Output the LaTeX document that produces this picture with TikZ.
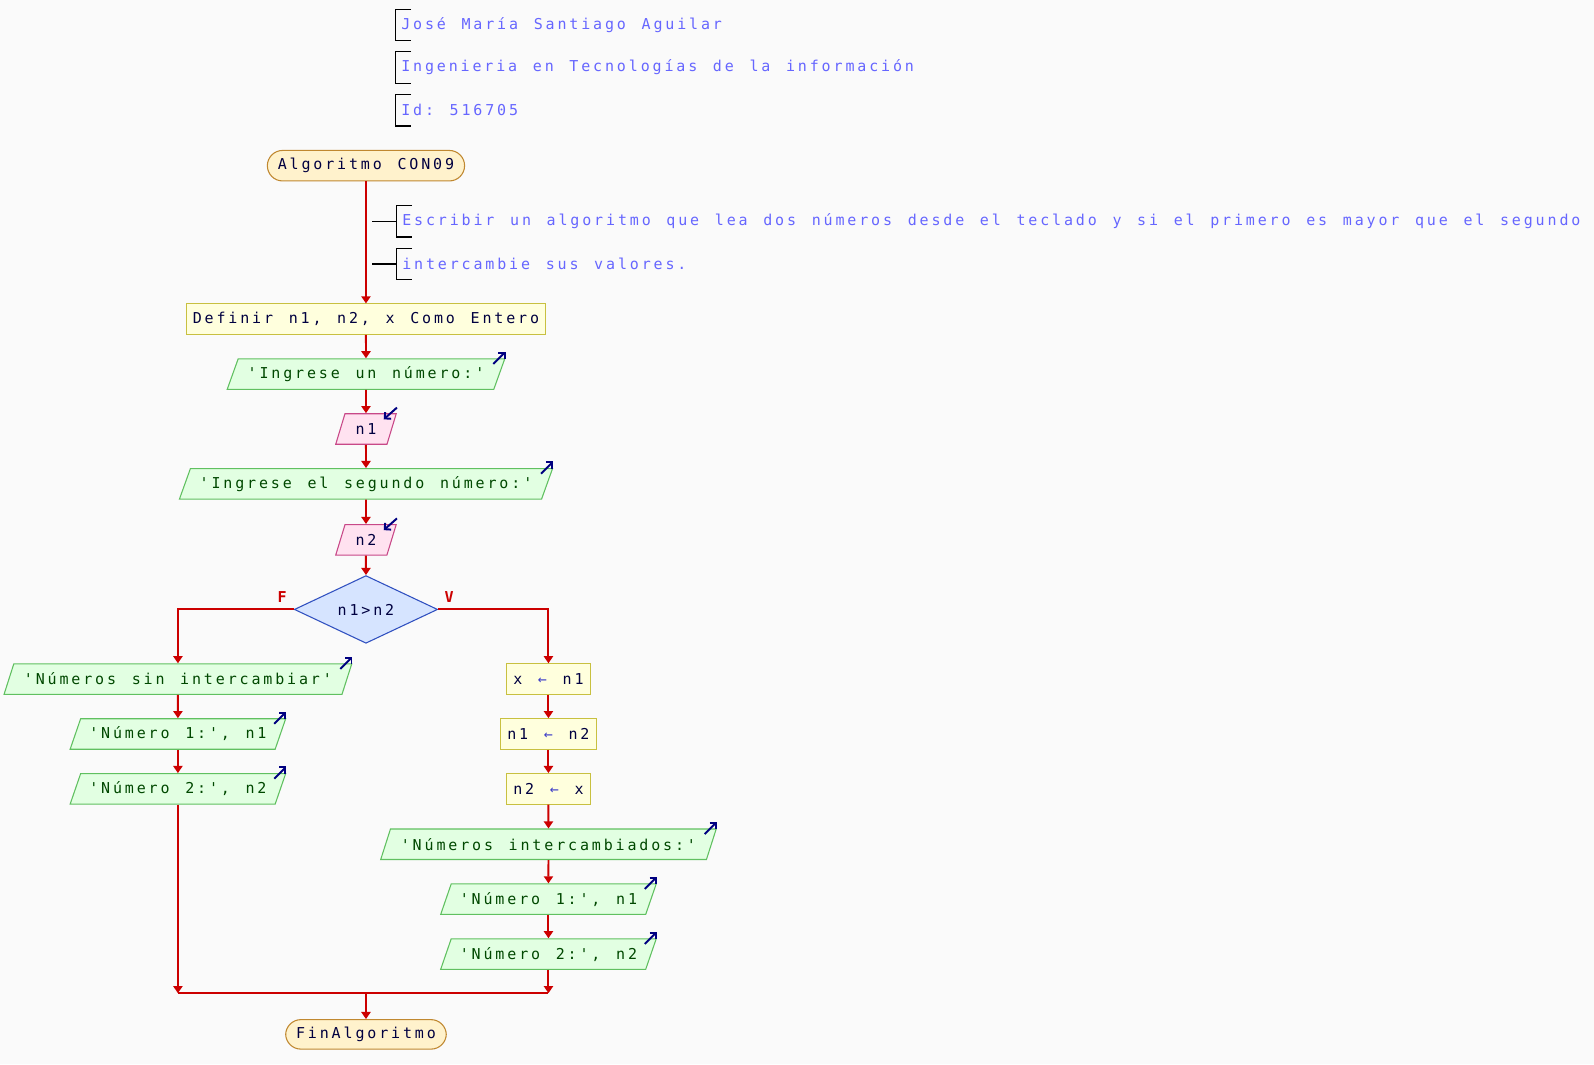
\documentclass[tikz,border=0pt]{standalone}
\usepackage{fontspec}
\usepackage{tikz}
\usetikzlibrary{shapes.geometric}
\usetikzlibrary{arrows.meta}
\usetikzlibrary{calc}

\newfontfamily\psmono{DejaVu Sans Mono}[LetterSpace=19.0, WordSpace=1.316, Ligatures=TeXOff]
\newcommand\pstext{\psmono\fontsize{8.4pt}{10pt}\selectfont\frenchspacing}

\definecolor{pagebg}{RGB}{250,250,250}
\definecolor{flowred}{RGB}{204,0,0}
\definecolor{comtext}{RGB}{102,102,255}
\definecolor{iconcol}{RGB}{0,0,128}
\definecolor{termfill}{RGB}{255,242,204}
\definecolor{termdraw}{RGB}{192,136,48}
\definecolor{procfill}{RGB}{255,255,221}
\definecolor{procdraw}{RGB}{200,192,64}
\definecolor{outfill}{RGB}{226,255,226}
\definecolor{outdraw}{RGB}{96,192,96}
\definecolor{infill}{RGB}{255,226,240}
\definecolor{indraw}{RGB}{200,72,136}
\definecolor{condfill}{RGB}{214,228,255}
\definecolor{conddraw}{RGB}{48,80,192}
\definecolor{darktext}{RGB}{0,0,64}
\definecolor{greentext}{RGB}{0,72,0}
\definecolor{asgarrow}{RGB}{64,64,200}

\begin{document}
\begin{tikzpicture}[
        >={Triangle[width=0.18cm,length=0.14cm]}, thick,
        every node/.style={font=\pstext, text=darktext},
        terminal/.style={draw=termdraw, fill=termfill, rounded corners=0.3cm,
            minimum height=0.6cm, line width=0.6pt},
        procbox/.style={draw=procdraw, fill=procfill, minimum height=0.6cm, line width=0.6pt},
        iobox/.style={trapezium, trapezium left angle=68, trapezium right angle=112,
            trapezium stretches body, minimum height=0.6cm, line width=0.6pt},
        outbox/.style={iobox, draw=outdraw, fill=outfill, text=greentext},
        inbox/.style={iobox, draw=indraw, fill=infill},
        decision/.style={diamond, draw=conddraw, fill=condfill, minimum width=2.82cm,
            minimum height=1.18cm, line width=0.6pt, inner sep=0pt},
        comment/.style={anchor=west, text=comtext, minimum height=0.59cm, inner xsep=0.1cm},
        flow/.style={->, draw=flowred, line width=1.1pt},
        bracket/.style={draw=black, line width=0.6pt},
        iconarrow/.style={-{Straight Barb[length=2.5pt,width=5pt]}, draw=iconcol, line width=1.1pt},
        flag/.style={text=flowred, font=\pstext\bfseries},
    ]

    \fill[pagebg] (0,0) rectangle (31.36,-20.94);
    \useasboundingbox (0,0) rectangle (31.36,-20.94);

    % header comments
    \node[comment] (head1) at (7.78,-0.49) {José María Santiago Aguilar};
    \node[comment] (head2) at (7.78,-1.33) {Ingenieria en Tecnologías de la información};
    \node[comment] (head3) at (7.78,-2.17) {Id: 516705};

    % main column
    \node[terminal, minimum width=3.88cm] (start) at (7.2,-3.26) {Algoritmo CON09};
    \node[comment] (com1) at (7.8,-4.354) {Escribir un algoritmo que lea dos números desde el teclado y si el primero es mayor que el segundo};
    \node[comment] (com2) at (7.8,-5.194) {intercambie sus valores.};
    \node[procbox, minimum width=7.08cm] (defs) at (7.2,-6.28) {Definir n1, n2, x Como Entero};
    \node[outbox, minimum width=5.46cm] (msg1) at (7.2,-7.36) {'Ingrese un número:'};
    \node[inbox, minimum width=1.19cm] (in1) at (7.2,-8.44) {n1};
    \node[outbox, minimum width=7.34cm] (msg2) at (7.2,-9.52) {'Ingrese el segundo número:'};
    \node[inbox, minimum width=1.19cm] (in2) at (7.2,-10.62) {n2};
    \node[decision] (cond) at (7.2,-11.99) {n1>n2};

    % false branch
    \node[outbox, minimum width=6.84cm] (noswap) at (3.5,-13.36) {'Números sin intercambiar'};
    \node[outbox, minimum width=4.24cm] (outa1) at (3.5,-14.44) {'Número 1:', n1};
    \node[outbox, minimum width=4.24cm] (outa2) at (3.5,-15.52) {'Número 2:', n2};

    % true branch
    \node[procbox, minimum width=1.64cm] (asg1) at (10.79,-13.36) {x {\color{asgarrow}←} n1};
    \node[procbox, minimum width=1.88cm] (asg2) at (10.79,-14.44) {n1 {\color{asgarrow}←} n2};
    \node[procbox, minimum width=1.64cm] (asg3) at (10.79,-15.52) {n2 {\color{asgarrow}←} x};
    \node[outbox, minimum width=6.6cm] (swapped) at (10.79,-16.61) {'Números intercambiados:'};
    \node[outbox, minimum width=4.24cm] (outb1) at (10.79,-17.69) {'Número 1:', n1};
    \node[outbox, minimum width=4.24cm] (outb2) at (10.79,-18.77) {'Número 2:', n2};

    \node[terminal, minimum width=3.16cm, minimum height=0.58cm] (fin) at (7.2,-20.35) {FinAlgoritmo};
    \coordinate (join) at (7.2,-19.54);

    \foreach \a/\b in {start/defs, defs/msg1, msg1/in1, in1/msg2, msg2/in2, in2/cond,
            noswap/outa1, outa1/outa2, asg1/asg2, asg2/asg3, asg3/swapped,
            swapped/outb1, outb1/outb2}
        \draw[flow] (\a.south) -- (\b.north);

    \draw[flow] (cond.west) -| node[flag, pos=0.05, above] {F} (noswap.north);
    \draw[flow] (cond.east) -| node[flag, pos=0.05, above] {V} (asg1.north);

    \draw[flow] (outa2.south) -- (outa2.south |- join);
    \draw[flow] (outb2.south) -- (outb2.south |- join);
    \draw[flowred, line width=1.1pt] (outa2.south |- join) -- (outb2.south |- join);
    \draw[flow] (join) -- (fin.north);

    % io marks
    \foreach \n in {msg1, msg2, noswap, outa1, outa2, swapped, outb1, outb2}
        \draw[iconarrow] ($(\n.top right corner)+(-0.24,-0.11)$) -- ++(0.24,0.24);
    \foreach \n in {in1, in2}
        \draw[iconarrow] ($(\n.top right corner)+(0,0.11)$) -- ++(-0.26,-0.23);

    % comment brackets
    \foreach \c in {head1, head2, head3, com1, com2}
        \draw[bracket] ([xshift=0.31cm]\c.north west) -- (\c.north west)
            -- (\c.south west) -- ([xshift=0.31cm]\c.south west);
    \foreach \c in {com1, com2}
        \draw[bracket] (\c.west) -- ++(-0.48,0);

\end{tikzpicture}
\end{document}
